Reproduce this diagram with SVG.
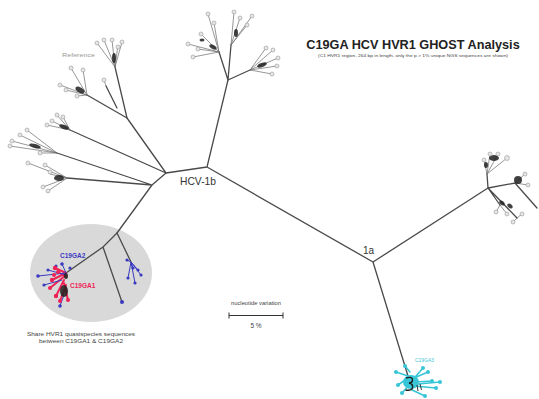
<svg xmlns="http://www.w3.org/2000/svg" width="539" height="399" viewBox="0 0 539 399">
<style>
.br{stroke:#4a4a4a;stroke-width:1.3;fill:none;stroke-linecap:round}
.tw{stroke:#6a6a6a;stroke-width:0.7;fill:none}
.lf{fill:#e6e6e6;stroke:#999;stroke-width:0.6}
.bl{fill:#1e1e1e;opacity:0.85}
.rd{fill:#ee2255}
.bu{fill:#3a3ac0}
.cy{fill:#38c6d6}
.cyl{stroke:#38c6d6;stroke-width:1.6;fill:none;stroke-linecap:round}
.bul{stroke:#3a3ac0;stroke-width:1;fill:none}
.rdl{stroke:#ee2255;stroke-width:2;fill:none;stroke-linecap:round}
text{font-family:"Liberation Sans",Arial,sans-serif}
</style>
<rect width="539" height="399" fill="#fff"/>

<g id="shared-ellipse">
<ellipse cx="91" cy="273" rx="61" ry="49" fill="#d9d9d9"/>
</g>

<g id="connectors">
<path class="br" d="M207 167 L166 173 M207 167 L228 80 M207 167 L373 262 M373 262 L488 188 M373 262 L408 376"/>
<path class="br" d="M166 173 L127 118 M166 173 L70 130 M166 173 L152 185 M152 185 L57 153 M152 185 L67 178 M152 185 L117 233"/>
<path class="br" d="M127 118 L115 67 M127 118 L87 95 M117 108 L106 86"/>
<path class="br" d="M117 233 L103 247 L66 273 M103 247 L122 302 M117 233 L131 262"/>
<path class="br" d="M228 80 L219 52 M228 80 L231 45 M228 80 L250 70"/>
<path class="br" d="M488 188 L487 174 M488 188 L515 183 L537 208 M488 188 L500 205 M488 188 L517 218"/>
</g>

<g id="cluster-top">
<path class="tw" d="M219 52 L188 44 M219 52 L193 57 M219 52 L201 34 M219 52 L208 14 M219 52 L214 23 M219 52 L198 49 M231 45 L234 12 M231 45 L240 18 M231 45 L252 16 M231 45 L247 25 M250 70 L273 50 M250 70 L278 58 M250 70 L277 66 M250 70 L272 74 M250 70 L266 48"/>
<ellipse class="bl" cx="213" cy="47" rx="4" ry="2" transform="rotate(30 213 47)"/>
<ellipse class="bl" cx="236" cy="33" rx="2" ry="4"/>
<ellipse class="bl" cx="262" cy="65" rx="5" ry="2" transform="rotate(-20 262 65)"/>
<ellipse class="bl" cx="202" cy="40" rx="2.5" ry="1.5"/>
<circle class="lf" cx="188" cy="44" r="2"/><circle class="lf" cx="193" cy="57" r="2"/><circle class="lf" cx="201" cy="34" r="2"/><circle class="lf" cx="208" cy="14" r="2"/><circle class="lf" cx="214" cy="23" r="2"/><circle class="lf" cx="198" cy="49" r="2"/>
<circle class="lf" cx="234" cy="12" r="2"/><circle class="lf" cx="240" cy="18" r="2"/><circle class="lf" cx="252" cy="16" r="2"/><circle class="lf" cx="247" cy="25" r="2"/>
<circle class="lf" cx="273" cy="50" r="2"/><circle class="lf" cx="278" cy="58" r="2"/><circle class="lf" cx="277" cy="66" r="2"/><circle class="lf" cx="272" cy="74" r="2"/><circle class="lf" cx="266" cy="48" r="2"/>
</g>

<g id="cluster-reference">
<path class="tw" d="M115 67 L97 43 M115 67 L104 40 M115 67 L112 40 M115 67 L122 42 M115 67 L118 45"/>
<ellipse class="bl" cx="114" cy="58" rx="2" ry="5"/>
<circle class="lf" cx="97" cy="43" r="2"/><circle class="lf" cx="104" cy="40" r="2"/><circle class="lf" cx="112" cy="40" r="2"/><circle class="lf" cx="122" cy="42" r="2"/><circle class="lf" cx="118" cy="47" r="2"/>
<text x="62" y="57" font-size="5" fill="#999" textLength="33" lengthAdjust="spacingAndGlyphs">Reference</text>
</g>

<g id="cluster-left">
<path class="tw" d="M87 95 L71 68 M87 95 L83 70 M87 95 L60 85 M87 95 L66 90 M87 95 L77 96 M70 130 L47 125 M70 130 L52 121 M70 130 L57 115 M70 130 L63 117 M57 153 L27 130 M57 153 L20 135 M57 153 L12 141 M57 153 L10 146 M57 153 L40 153 M67 178 L45 165 M67 178 L28 163 M67 178 L43 187 M67 178 L48 191 M67 178 L50 174 M106 86 L104 80"/>
<ellipse class="bl" cx="80" cy="90" rx="5" ry="2.5" transform="rotate(30 80 90)"/>
<ellipse class="bl" cx="64" cy="127" rx="5" ry="2" transform="rotate(20 64 127)"/>
<ellipse class="bl" cx="35" cy="146" rx="6" ry="2" transform="rotate(15 35 146)"/>
<ellipse class="bl" cx="59" cy="178" rx="5" ry="3"/>
<circle class="lf" cx="71" cy="68" r="2"/><circle class="lf" cx="83" cy="70" r="2"/><circle class="lf" cx="60" cy="85" r="2"/><circle class="lf" cx="66" cy="90" r="2"/><circle class="lf" cx="77" cy="96" r="2"/>
<circle class="lf" cx="47" cy="125" r="2"/><circle class="lf" cx="52" cy="121" r="2"/><circle class="lf" cx="57" cy="115" r="2"/><circle class="lf" cx="63" cy="117" r="2"/>
<circle class="lf" cx="27" cy="130" r="2"/><circle class="lf" cx="20" cy="135" r="2"/><circle class="lf" cx="12" cy="141" r="2"/><circle class="lf" cx="10" cy="146" r="2"/><circle class="lf" cx="40" cy="153" r="2"/>
<circle class="lf" cx="45" cy="165" r="2"/><circle class="lf" cx="28" cy="163" r="2"/><circle class="lf" cx="43" cy="187" r="2"/><circle class="lf" cx="48" cy="191" r="2"/><circle class="lf" cx="50" cy="172" r="2"/><circle class="lf" cx="104" cy="80" r="2"/>
</g>

<g id="cluster-right">
<path class="tw" d="M487 174 L484 160 M487 174 L490 154 M487 174 L498 154 M487 174 L507 158 M515 183 L525 174 M515 183 L528 185 M500 205 L496 212 M500 205 L507 214 M517 218 L522 214 M517 218 L513 222"/>
<ellipse class="bl" cx="494" cy="158" rx="5" ry="3"/>
<ellipse class="bl" cx="486" cy="165" rx="2" ry="3"/>
<ellipse class="bl" cx="518" cy="180" rx="4" ry="4"/>
<ellipse class="bl" cx="502" cy="203" rx="3" ry="2" transform="rotate(40 502 203)"/>
<ellipse class="bl" cx="510" cy="206" rx="3" ry="2" transform="rotate(40 510 206)"/>
<circle class="lf" cx="484" cy="160" r="2"/><circle class="lf" cx="490" cy="154" r="2"/><circle class="lf" cx="498" cy="154" r="2"/><circle class="lf" cx="507" cy="158" r="2.5"/>
<circle class="lf" cx="525" cy="174" r="2"/><circle class="lf" cx="528" cy="185" r="2"/><circle class="lf" cx="496" cy="212" r="2"/><circle class="lf" cx="507" cy="214" r="2"/><circle class="lf" cx="522" cy="214" r="2"/><circle class="lf" cx="513" cy="222" r="2"/>
</g>

<g id="cluster-c19ga1-2">
<path class="rdl" d="M66 273 L55 268 M66 273 L52 280 M66 275 L50 288 M64 280 L56 296 M66 285 L60 301 M66 277 L58 272 M64 283 L68 300"/>
<path class="bul" d="M66 273 L38 276 M66 273 L62 264 M62 280 L44 285 M64 295 L60 306 M66 275 L48 270"/>
<circle class="bu" cx="38" cy="276" r="1.8"/><circle class="bu" cx="62" cy="264" r="1.8"/><circle class="bu" cx="44" cy="285" r="1.6"/><circle class="bu" cx="60" cy="306" r="1.8"/><circle class="bu" cx="48" cy="270" r="1.6"/><circle class="bu" cx="56" cy="266" r="1.6"/><circle class="bu" cx="70" cy="268" r="1.6"/>
<circle class="rd" cx="55" cy="268" r="2.2"/><circle class="rd" cx="52" cy="280" r="2.2"/><circle class="rd" cx="50" cy="288" r="2"/><circle class="rd" cx="56" cy="296" r="2.2"/><circle class="rd" cx="60" cy="301" r="2"/><circle class="rd" cx="58" cy="272" r="2"/><circle class="rd" cx="68" cy="300" r="2"/><circle class="rd" cx="54" cy="275" r="2"/>
<ellipse class="bl" cx="64" cy="291" rx="4" ry="6"/>
<ellipse class="bl" cx="66" cy="276" rx="2" ry="3"/>
<path class="bul" d="M131 262 L127 260 M131 262 L138 270 M131 262 L141 275 M131 262 L135 283 M131 262 L128 278 M131 262 L133 268"/>
<circle class="bu" cx="127" cy="260" r="1.6"/><circle class="bu" cx="138" cy="270" r="1.6"/><circle class="bu" cx="141" cy="275" r="1.6"/><circle class="bu" cx="135" cy="283" r="1.6"/><circle class="bu" cx="128" cy="278" r="1.6"/><circle class="bu" cx="133" cy="268" r="1.6"/>
<circle class="bu" cx="122" cy="302" r="2"/>
<text x="60" y="258" font-size="6.5" font-weight="bold" fill="#3a3ac0">C19GA2</text>
<text x="70" y="288" font-size="6.5" font-weight="bold" fill="#ee2255">C19GA1</text>
<text x="81" y="336" font-size="5.5" fill="#444" text-anchor="middle" textLength="108" lengthAdjust="spacingAndGlyphs">Share HVR1 quasispecies sequences</text>
<text x="81" y="343" font-size="5.5" fill="#444" text-anchor="middle" textLength="84" lengthAdjust="spacingAndGlyphs">between C19GA1 &amp; C19GA2</text>
</g>

<g id="cluster-c19ga3">
<path class="cyl" d="M408 376 L396 372 M408 378 L398 385 M410 384 L402 393 M414 378 L428 372 M415 382 L432 381 M414 386 L436 388 M412 390 L425 396 M410 372 L405 366 M416 376 L423 368 M418 384 L440 382"/>
<circle class="cy" cx="396" cy="372" r="2"/><circle class="cy" cx="398" cy="385" r="2"/><circle class="cy" cx="402" cy="393" r="2"/><circle class="cy" cx="428" cy="372" r="2"/><circle class="cy" cx="432" cy="381" r="2"/><circle class="cy" cx="436" cy="388" r="2"/><circle class="cy" cx="425" cy="396" r="2"/><circle class="cy" cx="405" cy="366" r="2"/><circle class="cy" cx="423" cy="368" r="2"/><circle class="cy" cx="440" cy="382" r="2"/>
<ellipse class="cy" cx="411" cy="382" rx="8" ry="7"/>
<path d="M406 378 Q413 376 412.5 380.5 Q412 383 409 383 Q413.5 384 412.5 388 Q411 391 405.5 390" stroke="#1e1e1e" stroke-width="1.4" fill="none"/>
<path d="M417 385 L418 391 M420 384 L421.5 390" stroke="#1e1e1e" stroke-width="0.9"/>
<text x="415" y="362" font-size="5" fill="#38c6d6" textLength="19" lengthAdjust="spacingAndGlyphs">C19GA3</text>
</g>

<g id="labels">
<text x="413" y="49" font-size="12.7" font-weight="bold" fill="#222" text-anchor="middle">C19GA HCV HVR1 GHOST Analysis</text>
<text x="413" y="57" font-size="4" fill="#444" text-anchor="middle" textLength="190" lengthAdjust="spacingAndGlyphs">(C1 HVR1 region, 264 bp in length, only the p &gt; 1% unique NGS sequences are shown)</text>
<text x="180" y="185" font-size="11" fill="#333" textLength="36" lengthAdjust="spacingAndGlyphs">HCV-1b</text>
<text x="363" y="254" font-size="10" fill="#333">1a</text>
</g>

<g id="scale-bar">
<text x="256" y="305" font-size="4.5" fill="#444" text-anchor="middle" textLength="50" lengthAdjust="spacingAndGlyphs">nucleotide variation</text>
<path d="M229 315.5 L283 315.5 M229 312.5 L229 318.5 M283 312.5 L283 318.5" stroke="#333" stroke-width="1"/>
<text x="256" y="328" font-size="6.5" fill="#444" text-anchor="middle">5 %</text>
</g>
</svg>
